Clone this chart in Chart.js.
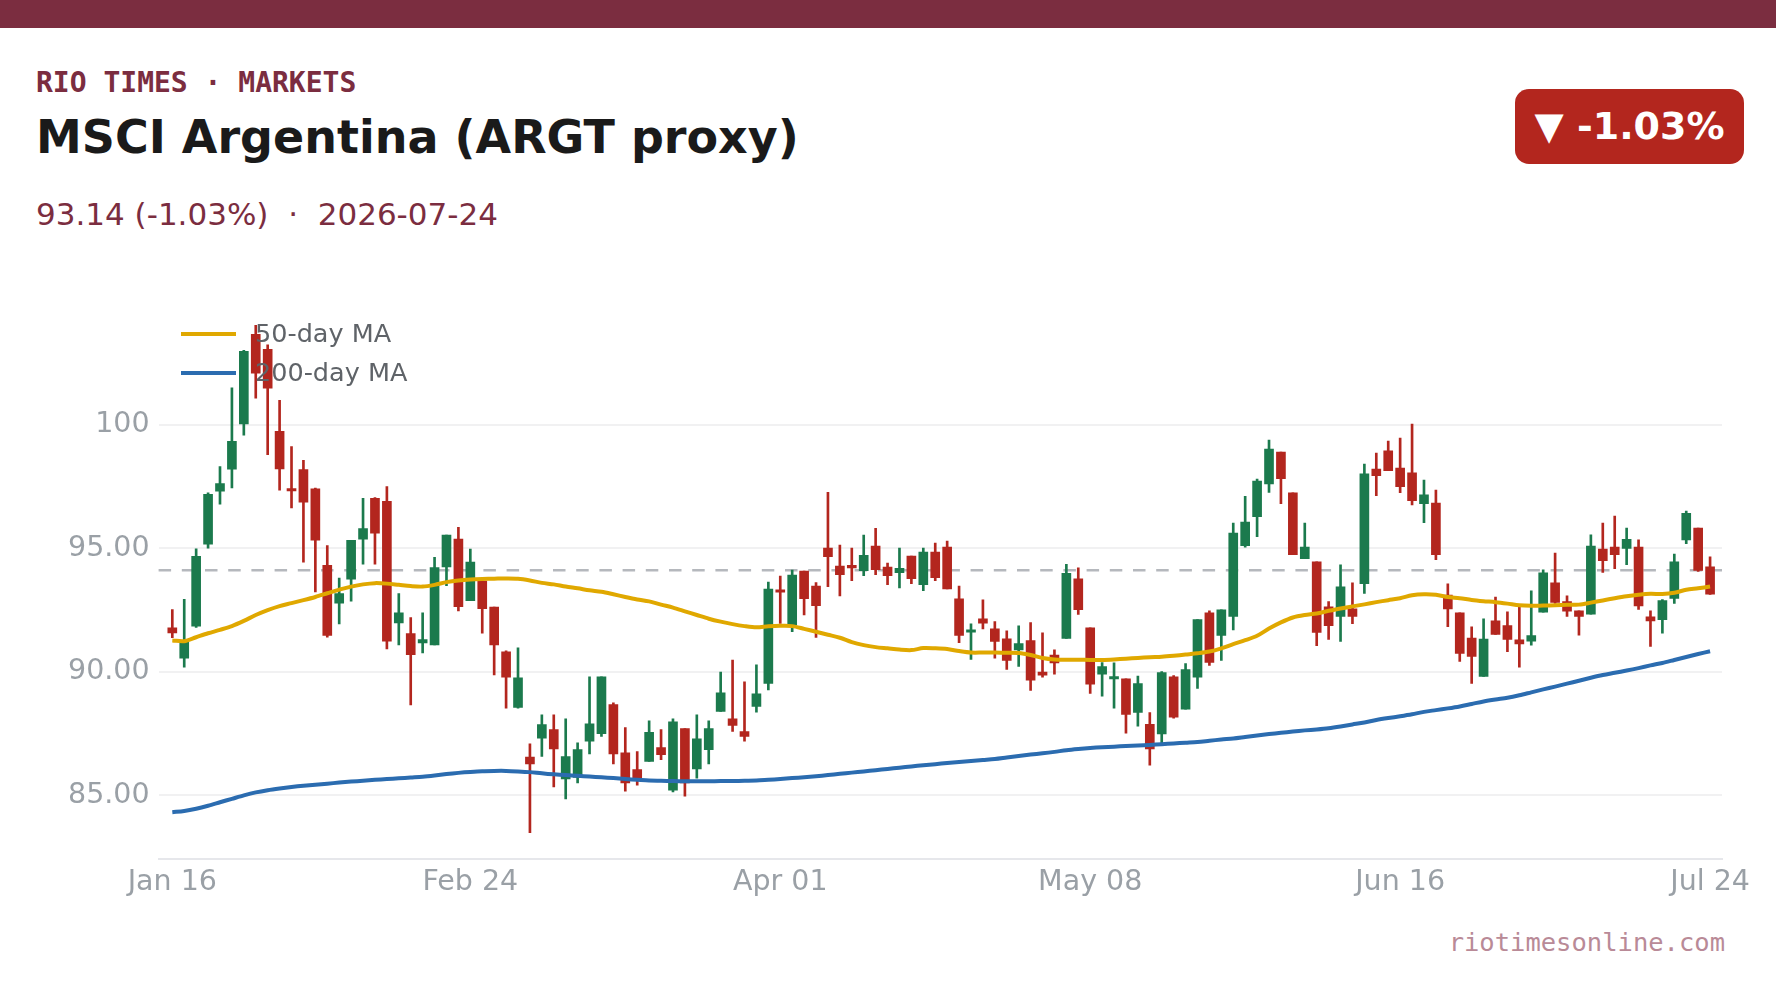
<!DOCTYPE html>
<html>
<head>
<meta charset="utf-8">
<script src="https://cdn.jsdelivr.net/npm/chart.js@4.4.1/dist/chart.umd.min.js"></script>
<style>
  html, body { margin: 0; padding: 0; background: #fff; }
  body { width: 1776px; height: 999px; position: relative; overflow: hidden; font-family: "DejaVu Sans", sans-serif; }
  .topbar { position: absolute; left: 0; top: 0; width: 1776px; height: 28px; background: #7b2d40; }
  .kicker { position: absolute; left: 36px; top: 69px; font: bold 28px/1 "DejaVu Sans Mono", monospace; color: #7b2d40; white-space: pre; }
  .title { position: absolute; left: 36px; top: 114px; font: bold 46px/1 "DejaVu Sans", sans-serif; color: #1a1a1a; white-space: pre; }
  .sub { position: absolute; left: 36px; top: 199px; font: 31px/1 "DejaVu Sans", sans-serif; color: #7b2d40; white-space: pre; }
  .badge { position: absolute; left: 1515px; top: 89px; width: 229px; height: 75px; border-radius: 14px; background: #b3261e;
           color: #fff; font: bold 38px/75px "DejaVu Sans", sans-serif; text-align: center; white-space: pre; }
  .mark { position: absolute; right: 51px; top: 930px; font: 25.5px/1 "DejaVu Sans Mono", monospace; color: #b98a97; }
  #c { position: absolute; left: 0; top: 240px; }
</style>
</head>
<body>
<div class="topbar"></div>
<div class="kicker">RIO TIMES · MARKETS</div>
<div class="title">MSCI Argentina (ARGT proxy)</div>
<div class="sub">93.14 (-1.03%)  ·  2026-07-24</div>
<div class="badge" id="badge">▼ -1.03%</div>
<div class="mark">riotimesonline.com</div>
<canvas id="c" width="1776" height="700"></canvas>
<script>
// trading days, Jan 16 - Jul 24 2026
const dates = [
  'Jan 16', 'Jan 20', 'Jan 21', 'Jan 22', 'Jan 23', 'Jan 26', 'Jan 27', 'Jan 28', 'Jan 29', 'Jan 30',
  'Feb 02', 'Feb 03', 'Feb 04', 'Feb 05', 'Feb 06', 'Feb 09', 'Feb 10', 'Feb 11', 'Feb 12', 'Feb 13',
  'Feb 17', 'Feb 18', 'Feb 19', 'Feb 20', 'Feb 23', 'Feb 24', 'Feb 25', 'Feb 26', 'Feb 27',
  'Mar 02', 'Mar 03', 'Mar 04', 'Mar 05', 'Mar 06', 'Mar 09', 'Mar 10', 'Mar 11', 'Mar 12', 'Mar 13',
  'Mar 16', 'Mar 17', 'Mar 18', 'Mar 19', 'Mar 20', 'Mar 23', 'Mar 24', 'Mar 25', 'Mar 26', 'Mar 27',
  'Mar 30', 'Mar 31', 'Apr 01', 'Apr 02', 'Apr 06', 'Apr 07', 'Apr 08', 'Apr 09', 'Apr 10',
  'Apr 13', 'Apr 14', 'Apr 15', 'Apr 16', 'Apr 17', 'Apr 20', 'Apr 21', 'Apr 22', 'Apr 23', 'Apr 24',
  'Apr 27', 'Apr 28', 'Apr 29', 'Apr 30', 'May 01', 'May 04', 'May 05', 'May 06', 'May 07', 'May 08',
  'May 11', 'May 12', 'May 13', 'May 14', 'May 15', 'May 18', 'May 19', 'May 20', 'May 21', 'May 22',
  'May 26', 'May 27', 'May 28', 'May 29', 'Jun 01', 'Jun 02', 'Jun 03', 'Jun 04', 'Jun 05',
  'Jun 08', 'Jun 09', 'Jun 10', 'Jun 11', 'Jun 12', 'Jun 15', 'Jun 16', 'Jun 17', 'Jun 18',
  'Jun 22', 'Jun 23', 'Jun 24', 'Jun 25', 'Jun 26', 'Jun 29', 'Jun 30', 'Jul 01', 'Jul 02',
  'Jul 06', 'Jul 07', 'Jul 08', 'Jul 09', 'Jul 10', 'Jul 13', 'Jul 14', 'Jul 15', 'Jul 16', 'Jul 17',
  'Jul 20', 'Jul 21', 'Jul 22', 'Jul 23', 'Jul 24'
];

const open = [
  91.78, 90.55, 91.85, 95.17, 97.31, 98.20, 100.03, 103.66, 103.05, 99.73,
  97.40, 98.19, 97.41, 94.31, 92.78, 93.75, 95.37, 97.02, 96.90, 91.98,
  91.55, 91.17, 91.09, 94.25, 95.37, 92.88, 93.67, 92.62, 90.81, 88.56,
  86.55, 87.31, 87.66, 85.67, 85.73, 87.19, 87.50, 88.67, 86.72, 86.04,
  86.37, 86.93, 85.21, 87.70, 86.07, 86.85, 88.40, 88.10, 87.58, 88.60,
  89.53, 93.31, 91.90, 94.08, 93.47, 95.01, 94.28, 94.28, 94.09, 95.09,
  94.24, 94.01, 94.68, 93.53, 94.85, 95.05, 92.95, 91.60, 92.15, 91.74,
  91.34, 90.89, 91.26, 89.99, 90.68, 91.35, 93.76, 91.78, 89.90, 89.71,
  89.72, 88.36, 87.87, 87.49, 89.80, 88.49, 89.78, 92.39, 91.47, 92.24,
  95.11, 96.28, 97.61, 98.89, 97.24, 94.58, 94.45, 92.63, 92.24, 92.55,
  93.57, 98.21, 98.94, 98.25, 98.05, 96.81, 96.83, 93.11, 92.39, 91.37,
  89.81, 92.06, 91.87, 91.30, 91.24, 92.41, 93.60, 92.84, 92.47, 92.33,
  94.97, 95.05, 94.99, 95.05, 92.23, 92.11, 92.97, 95.34, 95.82, 94.25
];
const high = [
  92.52, 92.93, 94.98, 97.25, 98.31, 101.50, 103.01, 104.02, 103.24, 100.99,
  99.12, 98.56, 97.44, 95.11, 93.79, 95.32, 97.02, 97.05, 97.50, 93.17,
  92.20, 92.39, 94.63, 95.53, 95.85, 94.97, 93.67, 92.62, 90.85, 90.97,
  87.09, 88.26, 88.26, 88.10, 87.13, 89.80, 89.80, 88.75, 87.74, 86.77,
  88.02, 87.66, 88.10, 87.70, 88.26, 88.02, 89.99, 90.48, 89.60, 90.28,
  93.63, 93.88, 94.12, 94.08, 93.61, 97.27, 95.13, 95.01, 95.53, 95.81,
  94.40, 95.01, 94.68, 95.01, 95.21, 95.29, 93.47, 91.94, 92.91, 92.03,
  91.66, 91.86, 91.99, 91.58, 90.89, 94.35, 94.21, 91.78, 90.37, 90.36,
  89.72, 89.83, 88.35, 90.01, 89.85, 90.33, 92.11, 92.47, 92.51, 96.02,
  97.10, 97.80, 99.38, 98.89, 97.24, 96.02, 94.45, 92.84, 94.33, 93.60,
  98.41, 98.85, 99.34, 99.46, 100.03, 97.76, 97.36, 93.56, 92.39, 91.82,
  92.14, 93.03, 92.43, 92.62, 93.28, 94.13, 94.81, 93.08, 92.47, 95.54,
  96.02, 96.30, 95.82, 95.34, 92.47, 92.92, 94.77, 96.51, 95.82, 94.65
];
const low = [
  91.38, 90.19, 91.80, 95.00, 96.79, 97.44, 99.58, 101.08, 98.79, 97.35,
  96.63, 94.44, 93.23, 91.40, 91.94, 92.86, 94.36, 94.36, 90.93, 91.09,
  88.66, 90.77, 91.09, 93.49, 92.47, 92.88, 91.56, 89.87, 88.53, 88.53,
  83.49, 86.58, 85.34, 84.86, 85.50, 86.68, 87.39, 86.27, 85.17, 85.41,
  86.37, 86.44, 85.14, 84.97, 85.70, 86.27, 88.40, 87.59, 87.19, 88.37,
  89.27, 91.96, 91.63, 92.30, 91.39, 93.45, 93.07, 93.69, 93.89, 93.93,
  93.53, 93.40, 93.57, 93.28, 93.69, 93.36, 91.18, 90.50, 91.74, 90.55,
  90.10, 90.22, 89.25, 89.78, 89.90, 91.35, 92.32, 89.13, 89.01, 88.53,
  87.52, 87.80, 86.22, 87.13, 88.12, 88.49, 89.33, 90.26, 90.46, 91.70,
  95.05, 95.47, 97.26, 96.81, 94.74, 94.58, 91.06, 91.31, 91.23, 91.95,
  93.17, 97.13, 98.14, 97.25, 96.76, 96.04, 94.54, 91.83, 90.42, 89.53,
  89.81, 91.51, 90.82, 90.19, 91.08, 92.41, 92.77, 92.24, 91.48, 92.33,
  94.02, 94.18, 94.34, 92.53, 91.03, 91.56, 92.77, 95.19, 94.06, 93.13
];
const close = [
  91.57, 91.27, 94.67, 97.18, 97.62, 99.33, 102.97, 102.09, 101.48, 98.21,
  97.32, 96.87, 95.33, 91.47, 93.17, 95.32, 95.80, 95.61, 91.24, 92.39,
  90.69, 91.31, 94.22, 95.53, 92.64, 94.44, 92.56, 91.09, 89.78, 89.76,
  86.27, 87.86, 86.88, 86.57, 86.85, 87.90, 89.80, 86.68, 85.50, 85.70,
  87.55, 86.65, 87.98, 85.50, 87.29, 87.70, 89.15, 87.83, 87.39, 89.11,
  93.35, 93.22, 93.92, 92.96, 92.68, 94.66, 93.93, 94.21, 94.72, 94.13,
  93.89, 94.19, 93.77, 94.85, 93.81, 93.36, 91.47, 91.70, 91.97, 91.23,
  90.46, 91.14, 89.66, 89.86, 90.36, 93.99, 92.52, 89.50, 90.21, 89.79,
  88.28, 89.52, 86.88, 89.97, 88.16, 90.09, 92.11, 90.38, 92.51, 95.62,
  96.06, 97.72, 99.02, 97.82, 94.74, 95.05, 91.59, 91.87, 93.44, 92.24,
  98.01, 97.94, 98.14, 97.49, 96.93, 97.16, 94.74, 92.55, 90.74, 90.62,
  91.33, 91.51, 91.31, 91.13, 91.47, 94.01, 92.81, 92.45, 92.24, 95.09,
  94.50, 94.74, 95.36, 92.67, 92.06, 92.88, 94.45, 96.42, 94.10, 93.14
];

const ma50 = [
  91.27, 91.24, 91.40, 91.56, 91.70, 91.85, 92.06, 92.30, 92.50, 92.66,
  92.78, 92.90, 93.03, 93.18, 93.33, 93.45, 93.54, 93.59, 93.57, 93.52,
  93.47, 93.45, 93.52, 93.63, 93.70, 93.74, 93.76, 93.77, 93.78, 93.77,
  93.70, 93.60, 93.54, 93.45, 93.38, 93.30, 93.24, 93.14, 93.03, 92.93,
  92.85, 92.72, 92.60, 92.45, 92.30, 92.15, 92.03, 91.93, 91.85, 91.80,
  91.84, 91.86, 91.85, 91.74, 91.62, 91.50, 91.38, 91.20, 91.08, 91.00,
  90.95, 90.90, 90.88, 90.96, 90.95, 90.92, 90.84, 90.78, 90.78, 90.78,
  90.77, 90.76, 90.68, 90.56, 90.50, 90.49, 90.49, 90.48, 90.48, 90.50,
  90.53, 90.56, 90.59, 90.61, 90.65, 90.70, 90.75, 90.82, 90.95, 91.12,
  91.28, 91.46, 91.75, 92.00, 92.20, 92.30, 92.36, 92.47, 92.56, 92.65,
  92.73, 92.82, 92.90, 92.98, 93.10, 93.14, 93.12, 93.03, 92.98, 92.91,
  92.86, 92.82, 92.76, 92.69, 92.67, 92.68, 92.69, 92.71, 92.72, 92.80,
  92.89, 92.98, 93.06, 93.12, 93.16, 93.15, 93.20, 93.32, 93.38, 93.45
];
const ma200 = [
  84.32, 84.37, 84.46, 84.58, 84.72, 84.86, 85.00, 85.12, 85.21, 85.28,
  85.34, 85.39, 85.43, 85.47, 85.52, 85.56, 85.59, 85.63, 85.66, 85.69,
  85.72, 85.75, 85.80, 85.86, 85.91, 85.95, 85.98, 85.99, 85.99, 85.97,
  85.94, 85.89, 85.85, 85.82, 85.79, 85.76, 85.73, 85.70, 85.66, 85.63,
  85.60, 85.59, 85.58, 85.57, 85.57, 85.57, 85.58, 85.58, 85.59, 85.60,
  85.63, 85.66, 85.70, 85.73, 85.77, 85.82, 85.87, 85.92, 85.97, 86.02,
  86.07, 86.12, 86.17, 86.22, 86.26, 86.31, 86.35, 86.39, 86.43, 86.47,
  86.53, 86.59, 86.65, 86.70, 86.76, 86.83, 86.88, 86.92, 86.95, 86.97,
  87.00, 87.02, 87.04, 87.07, 87.10, 87.13, 87.16, 87.21, 87.26, 87.30,
  87.36, 87.42, 87.48, 87.53, 87.58, 87.63, 87.67, 87.72, 87.79, 87.87,
  87.95, 88.05, 88.13, 88.20, 88.28, 88.38, 88.45, 88.52, 88.60, 88.70,
  88.80, 88.88, 88.95, 89.05, 89.17, 89.29, 89.40, 89.52, 89.64, 89.76,
  89.87, 89.96, 90.05, 90.15, 90.26, 90.36, 90.48, 90.60, 90.72, 90.83
];

const prevClose = 94.11;
const tickIdx = [0, 25, 51, 77, 103, 129];
const yTicks = [85, 90, 95, 100];
const xMin = -1.15, xMax = 130;

const UP = '#1b7a4d', DOWN = '#b3261e';
const candleColor = close.map((c, i) => c >= open[i] ? UP : DOWN);

const pct = (close[close.length - 1] / prevClose - 1) * 100;
document.getElementById('badge').textContent = '▼ ' + pct.toFixed(2) + '%';

const FONT = '"DejaVu Sans", sans-serif';

// dashed reference line at previous close, under the candles
const prevLine = {
  id: 'prevLine',
  beforeDatasetsDraw(chart) {
    const { ctx, chartArea, scales } = chart;
    const y = scales.y.getPixelForValue(prevClose);
    ctx.save();
    ctx.strokeStyle = '#b5b8bd';
    ctx.lineWidth = 2.5;
    ctx.setLineDash([12.5, 10.7]);
    ctx.beginPath();
    ctx.moveTo(chartArea.left, y);
    ctx.lineTo(chartArea.right, y);
    ctx.stroke();
    ctx.restore();
  }
};

// legend drawn over the plot, top-left
const overLegend = {
  id: 'overLegend',
  afterDatasetsDraw(chart) {
    const ctx = chart.ctx;
    const items = chart.data.datasets.filter(d => d.type === 'line');
    ctx.save();
    ctx.font = '25.5px ' + FONT;
    ctx.textBaseline = 'middle';
    items.forEach((d, k) => {
      const y = 94 + k * 39;
      ctx.strokeStyle = d.borderColor;
      ctx.lineWidth = 4;
      ctx.beginPath();
      ctx.moveTo(181, y);
      ctx.lineTo(236, y);
      ctx.stroke();
      ctx.fillStyle = '#5f6368';
      ctx.fillText(d.label, 255, y + 1);
    });
    ctx.restore();
  }
};

new Chart(document.getElementById('c'), {
  type: 'bar',
  data: {
    datasets: [
      {
        type: 'line', label: '50-day MA',
        data: ma50.map((v, i) => ({ x: i, y: v })),
        borderColor: '#e0a800', borderWidth: 4, pointRadius: 0, tension: 0.3, order: 0
      },
      {
        type: 'line', label: '200-day MA',
        data: ma200.map((v, i) => ({ x: i, y: v })),
        borderColor: '#2b6cb0', borderWidth: 4, pointRadius: 0, tension: 0.3, order: 0
      },
      {
        label: 'body',
        data: open.map((o, i) => ({ x: i, y: [o, close[i]] })),
        backgroundColor: candleColor, barThickness: 9, minBarLength: 2.5, grouped: false, order: 1
      },
      {
        label: 'wick',
        data: low.map((l, i) => ({ x: i, y: [l, high[i]] })),
        backgroundColor: candleColor, barThickness: 2, grouped: false, order: 2
      }
    ]
  },
  options: {
    responsive: false,
    animation: false,
    devicePixelRatio: 1,
    layout: { padding: { top: 60, right: 54, left: 0, bottom: 0 } },
    plugins: { legend: { display: false }, tooltip: { enabled: false } },
    scales: {
      x: {
        type: 'linear', min: xMin, max: xMax, offset: false, bounds: 'data',
        afterDataLimits: s => { s.min = xMin; s.max = xMax; },
        afterBuildTicks: s => { s.ticks = tickIdx.map(v => ({ value: v })); },
        afterFit: s => { s.height = 81.4; },
        grid: { display: false, drawTicks: false, offset: false },
        border: { display: true, color: '#e6e7eb', width: 2 },
        ticks: {
          autoSkip: false, maxRotation: 0, minRotation: 0, padding: 7,
          color: '#9aa0a6', font: { family: FONT, size: 28.5 },
          callback: v => dates[v]
        }
      },
      y: {
        min: 82.44, max: 105.05,
        afterBuildTicks: s => { s.ticks = yTicks.map(v => ({ value: v })); },
        afterFit: s => { s.width = 158.6; },
        grid: { color: '#f1f1f2', lineWidth: 2, drawTicks: false },
        border: { display: false },
        ticks: {
          padding: 9, color: '#9aa0a6', font: { family: FONT, size: 28.5 },
          callback: v => v >= 100 ? String(v) : v.toFixed(2)
        }
      }
    }
  },
  plugins: [prevLine, overLegend]
});
</script>
</body>
</html>
